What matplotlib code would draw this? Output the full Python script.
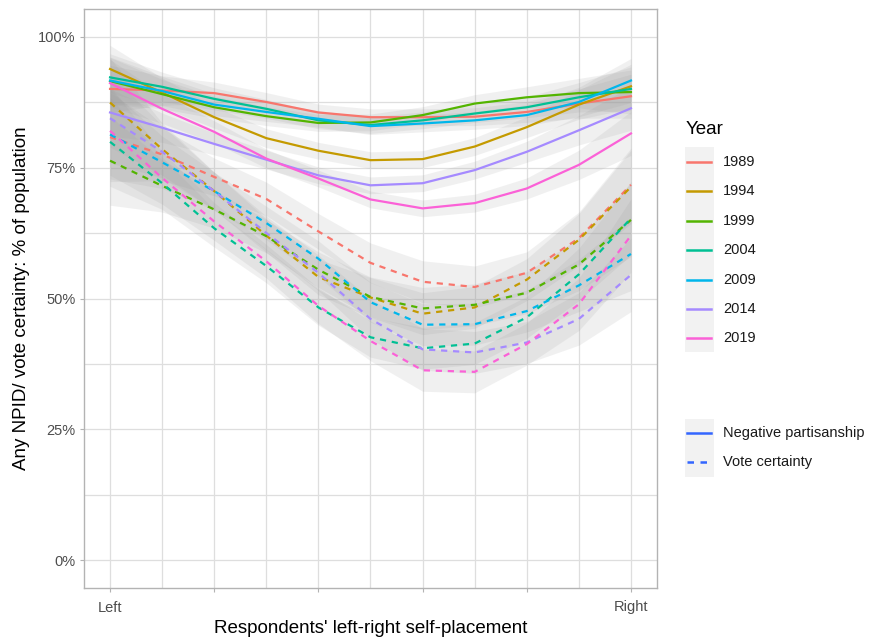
import matplotlib
matplotlib.use('Agg')
import matplotlib.pyplot as plt
import numpy as np
from matplotlib.patches import Rectangle
from matplotlib.ticker import FixedLocator, PercentFormatter

plt.rcParams['font.family'] = ['Liberation Sans', 'DejaVu Sans']

# left-right self-placement scale (0 = Left, 10 = Right)
placement = np.arange(11)
years = ['1989', '1994', '1999', '2004', '2009', '2014', '2019']
colors = ['#F8766D', '#C49A00', '#53B400', '#00C094', '#00B6EB', '#A58AFF', '#FB61D7']

# smoothed share with any negative party ID (%), by year
npid = {
    '1989': [90.0, 89.7, 89.2, 87.5, 85.5, 84.6, 84.6, 84.7, 85.6, 87.2, 88.6],
    '1994': [93.8, 89.3, 84.6, 80.6, 78.2, 76.4, 76.6, 79.0, 82.7, 87.0, 90.5],
    '1999': [91.5, 89.0, 86.5, 84.8, 83.5, 83.6, 85.0, 87.2, 88.4, 89.2, 89.4],
    '2004': [92.2, 90.4, 88.1, 86.2, 84.0, 83.1, 84.0, 85.3, 86.5, 88.4, 90.0],
    '2009': [91.6, 89.6, 87.0, 85.6, 84.3, 82.9, 83.4, 84.0, 85.0, 87.5, 91.6],
    '2014': [85.5, 82.6, 79.5, 76.5, 73.5, 71.6, 72.0, 74.5, 78.0, 82.1, 86.3],
    '2019': [91.1, 86.2, 81.8, 76.7, 72.9, 68.9, 67.2, 68.2, 71.0, 75.5, 81.5],
}
# smoothed share certain of their vote (%), by year
certainty = {
    '1989': [80.8, 77.5, 73.2, 69.0, 62.8, 56.8, 53.2, 52.2, 54.9, 61.5, 71.7],
    '1994': [87.4, 78.5, 70.5, 62.0, 54.1, 50.2, 47.1, 48.3, 53.6, 61.2, 71.3],
    '1999': [76.3, 71.5, 67.0, 61.9, 55.5, 50.3, 48.1, 48.8, 51.1, 56.5, 65.0],
    '2004': [79.9, 72.0, 63.4, 56.2, 48.3, 42.6, 40.5, 41.4, 46.4, 54.6, 65.3],
    '2009': [81.3, 76.0, 70.5, 64.4, 57.6, 49.3, 45.0, 45.1, 47.6, 52.5, 58.5],
    '2014': [84.4, 78.0, 70.5, 62.5, 54.9, 46.1, 40.3, 39.7, 41.6, 46.1, 54.5],
    '2019': [82.0, 73.0, 64.7, 57.1, 48.6, 41.9, 36.3, 36.0, 41.3, 48.9, 62.0],
}
# half-width of the confidence band (percentage points)
npid_se = [4.5, 2.8, 2.1, 1.8, 1.6, 1.6, 1.6, 1.7, 2.0, 2.8, 4.2]
certainty_se = [8.5, 5.0, 3.6, 3.2, 3.4, 3.8, 4.0, 4.0, 4.0, 5.0, 7.0]

x_ticks = [0, 2, 4, 6, 8, 10]
x_labels = ['Left', '', '', '', '', 'Right']
y_ticks = [0, 25, 50, 75, 100]

W, H = 879, 637
fig = plt.figure(figsize=(W / 100, H / 100), dpi=100)
ax = fig.add_axes([84 / W, 1 - 588 / H, (657 - 84) / W, (588 - 9) / H])

for yr in years:
    for vals, se in ((npid[yr], npid_se), (certainty[yr], certainty_se)):
        v = np.array(vals)
        s = np.array(se)
        ax.fill_between(placement, v - s, v + s, color='0.6', alpha=0.14, lw=0, zorder=2)

for yr, c in zip(years, colors):
    ax.plot(placement, npid[yr], color=c, lw=1.6, zorder=3)
    ax.plot(placement, certainty[yr], color=c, lw=1.6, ls=(0, (2.8, 2.6)), zorder=3)

ax.set_xlim(-0.5, 10.5)
ax.set_ylim(-5.25, 105.25)
ax.xaxis.set_major_locator(FixedLocator(x_ticks))
ax.xaxis.set_minor_locator(FixedLocator([1, 3, 5, 7, 9]))
ax.set_xticklabels(x_labels)
ax.yaxis.set_major_locator(FixedLocator(y_ticks))
ax.yaxis.set_minor_locator(FixedLocator([12.5, 37.5, 62.5, 87.5]))
ax.yaxis.set_major_formatter(PercentFormatter(decimals=0))
ax.grid(True, which='both', color='#dedede', lw=0.9, zorder=0)
ax.set_axisbelow(True)
for sp in ax.spines.values():
    sp.set_color('#b3b3b3')
    sp.set_linewidth(1.0)
ax.tick_params(which='major', length=3, width=0.8, color='#b3b3b3',
               labelsize=10.5, labelcolor='#4d4d4d', pad=3)
ax.tick_params(axis='x', which='major', pad=6)
ax.tick_params(which='minor', length=0)
ax.set_xlabel("Respondents' left-right self-placement", fontsize=13.5, labelpad=4)
ax.set_ylabel('Any NPID/ vote certainty: % of population', fontsize=13.5, labelpad=6)

# legends drawn in pixel space on an overlay axes
lg = fig.add_axes([0, 0, 1, 1])
lg.set_xlim(0, W)
lg.set_ylim(H, 0)
lg.axis('off')

lg.text(686, 130, 'Year', fontsize=13.5, va='center', ha='left')
lg.add_patch(Rectangle((685, 147), 29, 205, color='#f2f2f2', lw=0))
for i, (yr, c) in enumerate(zip(years, colors)):
    yy = 162 + i * 29.4
    lg.plot([687, 711], [yy, yy], color=c, lw=1.8)
    lg.text(723, yy, yr, fontsize=10.5, va='center', ha='left', color='#1a1a1a')

lg.add_patch(Rectangle((685, 419), 29, 58, color='#f2f2f2', lw=0))
lg.plot([687, 711], [433, 433], color='#3366FF', lw=1.8)
lg.plot([687, 711], [462, 462], color='#3366FF', lw=1.8, ls=(0, (2.6, 2.6)))
lg.text(723, 433, 'Negative partisanship', fontsize=10.5, va='center', ha='left', color='#1a1a1a')
lg.text(723, 462, 'Vote certainty', fontsize=10.5, va='center', ha='left', color='#1a1a1a')

fig.savefig('out.png', dpi=100, facecolor='white')
